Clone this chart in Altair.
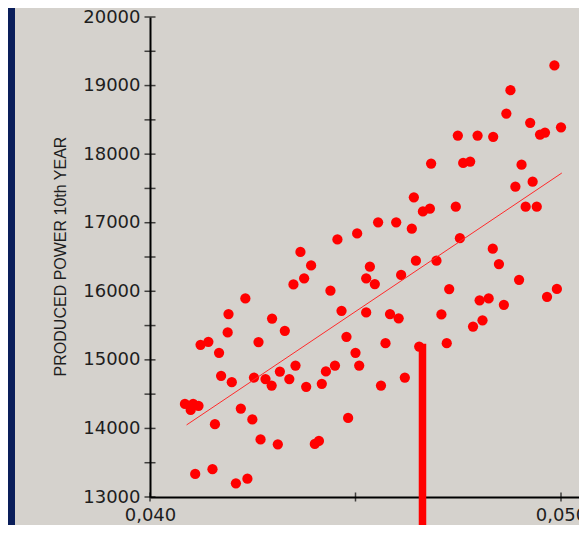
import altair as alt
import pandas as pd

# ---- data ----
X = [0.04984, 0.04877, 0.04867, 0.04925, 0.04949, 0.04961, 0.05000, 0.04749, 0.04797, 0.04835,
     0.04684, 0.04762, 0.04779, 0.04904, 0.04889, 0.04931, 0.04914, 0.04941, 0.04642, 0.04664,
     0.04681, 0.04744, 0.04555, 0.04599, 0.04637, 0.04456, 0.04504, 0.04366, 0.04392, 0.04535,
     0.04754, 0.04834, 0.04849, 0.04647, 0.04697, 0.04375, 0.04349, 0.04439, 0.04526, 0.04547,
     0.04611, 0.04898, 0.04990, 0.04966, 0.04728, 0.04824, 0.04802, 0.04861, 0.04526, 0.04584,
     0.04605, 0.04709, 0.04809, 0.04786, 0.04466, 0.04478, 0.04500, 0.04509, 0.04573, 0.04655,
     0.04722, 0.04562, 0.04620, 0.04482, 0.04401, 0.04411, 0.04232, 0.04191, 0.04189, 0.04297,
     0.04328, 0.04264, 0.04123, 0.04142, 0.04168, 0.04354, 0.04450, 0.04428, 0.04316, 0.04173,
     0.04199, 0.04253, 0.04281, 0.04296, 0.04339, 0.04380, 0.04418, 0.04085, 0.04099, 0.04105,
     0.04118, 0.04158, 0.04221, 0.04249, 0.04269, 0.04311, 0.04110, 0.04152, 0.04209, 0.04237]

Y = [19293, 18932, 18592, 18456, 18285, 18314, 18392, 18271, 18271, 18252,
     17862, 17872, 17891, 17847, 17526, 17599, 17234, 17234, 17370, 17165,
     17205, 17234, 17005, 17005, 16913, 16757, 16844, 16573, 16377, 16358,
     16774, 16621, 16397, 16446, 16446, 16190, 16100, 16008, 16190, 16105,
     16238, 16168, 16034, 15920, 16032, 15895, 15869, 15803, 15691, 15667,
     15606, 15662, 15577, 15486, 15716, 15336, 15102, 14917, 15244, 15194,
     15244, 14625, 14742, 14153, 13774, 13818, 15895, 15667, 15399, 15602,
     15424, 15259, 15219, 15263, 15102, 14917, 14917, 14832, 14829, 14767,
     14675, 14742, 14720, 14625, 14720, 14606, 14650, 14358, 14270, 14358,
     14329, 14061, 14289, 14132, 13840, 13769, 13336, 13406, 13200, 13267]

FIT_X = [0.04089, 0.05002]
FIT_Y = [14051, 17725]

BAR_X = [0.04663]
BAR_TOP = [15234]

Y_LABEL_TICKS = [13000, 14000, 15000, 16000, 17000, 18000, 19000, 20000]
Y_ALL_TICKS = [13000, 13500, 14000, 14500, 15000, 15500, 16000, 16500, 17000,
               17500, 18000, 18500, 19000, 19500, 20000]
X_TICKS = [0.040, 0.045, 0.050]

Y_TITLE = "PRODUCED POWER 10th YEAR"

# ---- styling ----
GRAY = "#d5d2cd"
NAVY = "#0a1e5a"
RED = "#ff0000"
W, H = 429, 480
PAD_B = 28

xs = alt.Scale(domain=[0.040, 0.050438], nice=False, zero=False)
ys = alt.Scale(domain=[13000, 20000], nice=False, zero=False)

pts = pd.DataFrame({"x": X, "y": Y})
fit = pd.DataFrame({"x": FIT_X, "y": FIT_Y})
bar = pd.DataFrame({"x": BAR_X, "y": BAR_TOP})
ytk = pd.DataFrame({"y": Y_ALL_TICKS})
xtk = pd.DataFrame({"x": X_TICKS})

x_axis = alt.Axis(
    values=X_TICKS, ticks=False, tickSize=0, grid=False, title=None,
    domain=True, domainColor="black", domainWidth=2,
    labelExpr="(datum.value > 0.0449 && datum.value < 0.0451) ? '' : replace(format(datum.value, '.3f'), '.', ',')",
    labelFont="DejaVu Sans", labelFontSize=18, labelColor="#1e1e1e",
    labelPadding=9, labelFlush=False, labelOverlap=False,
)
y_axis = alt.Axis(
    values=Y_LABEL_TICKS, ticks=False, tickSize=0, grid=False, format="d",
    domain=True, domainColor="black", domainWidth=2,
    labelFont="DejaVu Sans", labelFontSize=18, labelColor="#1e1e1e",
    labelPadding=10, labelFlush=False, labelOverlap=False,
    title=Y_TITLE, titleFont="Liberation Sans",
    titleFontSize=16, titleFontWeight="normal", titleColor="#1e1e1e",
    titleAngle=270, titleX=-85, titleY=239, titleAlign="center",
    titleBaseline="alphabetic",
)

X_ENC = alt.X("x:Q", scale=xs, axis=x_axis)
Y_ENC = alt.Y("y:Q", scale=ys, axis=y_axis)

strip = alt.Chart(pd.DataFrame({"a": [0]})).mark_rect(color=NAVY).encode(
    x=alt.value(-142), x2=alt.value(-135), y=alt.value(-9), y2=alt.value(H + PAD_B)
)

points = alt.Chart(pts).mark_circle(color=RED, size=105, opacity=1).encode(x=X_ENC, y=Y_ENC)

fitline = alt.Chart(fit).mark_line(color="#ff2a2a", strokeWidth=1).encode(x=X_ENC, y=Y_ENC)

barmark = alt.Chart(bar).mark_rule(color=RED, strokeWidth=7.5).encode(
    x=X_ENC, y=Y_ENC, y2=alt.value(H + PAD_B),
)

yticks = alt.Chart(ytk).mark_tick(color="black", orient="horizontal", size=11, thickness=1.5).encode(
    y=Y_ENC, x=alt.value(0),
)

xticks = alt.Chart(xtk).mark_tick(color="black", orient="vertical", size=9, thickness=1.5).encode(
    x=X_ENC, y=alt.value(H),
)

chart = alt.layer(strip, points, fitline, barmark, yticks, xticks).properties(
    width=W, height=H,
    autosize=alt.AutoSizeParams(type="none"),
    padding={"left": 142, "top": 9, "right": 0, "bottom": PAD_B},
).configure(background=GRAY).configure_view(stroke=None)

chart.save("out.html", embed_options={"renderer": "svg", "actions": False})
